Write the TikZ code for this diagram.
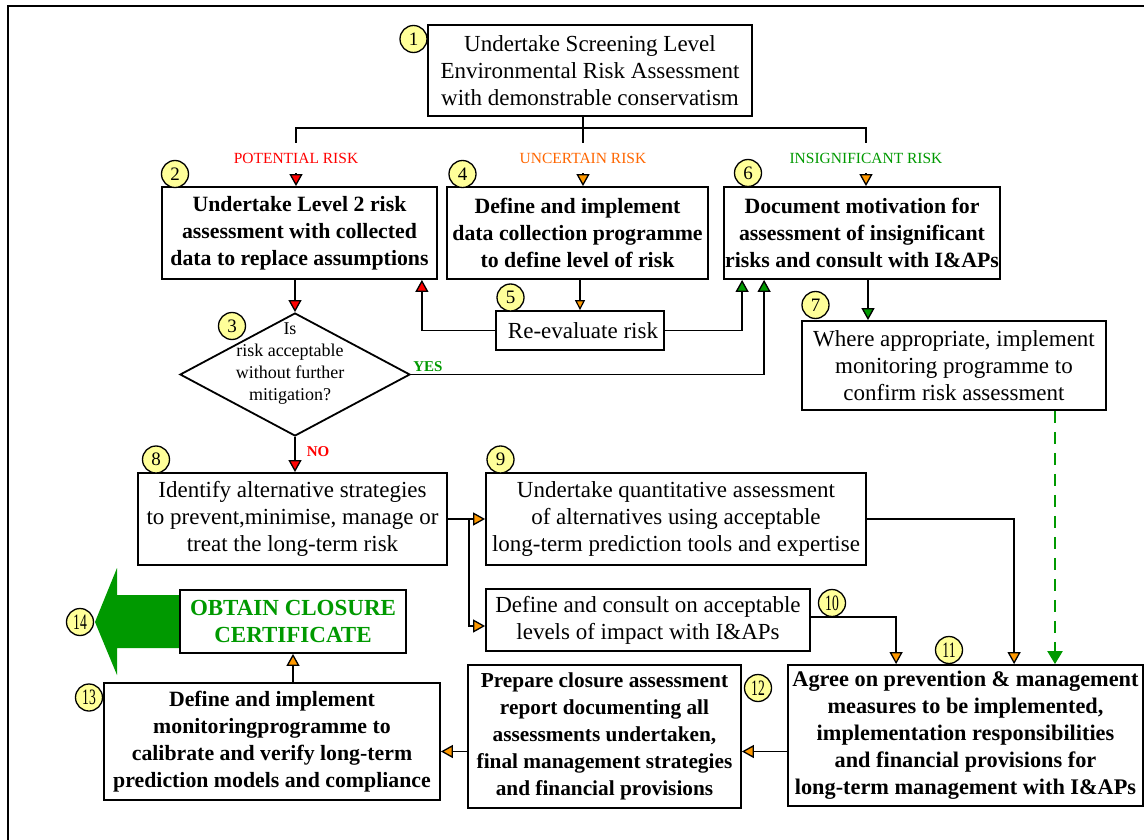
\documentclass[tikz,border=0pt]{standalone}
\usepackage{fontspec}
\usepackage{graphicx}
\setmainfont{Liberation Serif}
\usetikzlibrary{arrows.meta,shapes.geometric,calc}

\definecolor{riskred}{RGB}{255,0,0}
\definecolor{labelorange}{RGB}{255,102,0}
\definecolor{tiporange}{RGB}{255,153,0}
\definecolor{riskgreen}{RGB}{0,153,0}
\definecolor{numyellow}{RGB}{255,255,153}

\newcommand{\twodigit}[1]{\scalebox{0.62}[1]{\fontsize{22}{22}\selectfont #1}}

\tikzset{
  box/.style={draw, line width=1.8pt, align=center, inner sep=0pt,
    font=\fontsize{23}{27}\selectfont},
  bbox/.style={box, font=\bfseries\fontsize{21.8}{27}\selectfont},
  num/.style={circle, draw, fill=numyellow, line width=1.3pt, minimum size=27pt,
    inner sep=0pt, font=\fontsize{19}{19}\selectfont},
  risklabel/.style={inner sep=0pt, minimum height=30pt, font=\fontsize{15.5}{15.5}\selectfont},
  yesno/.style={inner sep=0pt, font=\bfseries\fontsize{15}{15}\selectfont},
  conn/.style={line width=1.8pt},
  tipR/.style={conn, -{Triangle[length=12pt,width=13pt,fill=riskred,line width=1.3pt]}},
  tipO/.style={conn, -{Triangle[length=12pt,width=13pt,fill=tiporange,line width=1.3pt]}},
  tipOs/.style={conn, -{Triangle[length=10pt,width=10pt,fill=tiporange,line width=1.2pt]}},
  tipG/.style={conn, -{Triangle[length=12pt,width=13pt,fill=riskgreen,line width=1.3pt]}},
  dashG/.style={line width=2.2pt, draw=riskgreen, dash pattern=on 12pt off 9pt,
    -{Triangle[length=13pt,width=15pt,fill=riskgreen]}},
}

\begin{document}
\begin{tikzpicture}[x=1pt,y=-1pt]
\useasboundingbox (0,0) rectangle (1144,840);

% outer frame (left and top edges)
\draw[line width=2.2pt] (8,840) -- (8,6) -- (1144,6);

% process boxes
\node[box, minimum width=324pt, minimum height=91pt] (b1) at (590,70.5)
  {Undertake Screening Level\\Environmental Risk Assessment\\with demonstrable conservatism};
\node[bbox, minimum width=275pt, minimum height=92pt] (b2) at (299.5,233)
  {Undertake Level 2 risk\\assessment with collected\\data to replace assumptions};
\node[bbox, minimum width=261pt, minimum height=92pt] (b4) at (577.5,233)
  {Define and implement\\data collection programme\\to define level of risk};
\node[bbox, minimum width=276pt, minimum height=92pt] (b6) at (862,233)
  {Document motivation for\\assessment of insignificant\\risks and consult with I\&APs};
\node[box, minimum width=168pt, minimum height=39pt] (b5) at (580,330.5)
  {\hspace*{6pt}Re-evaluate risk};
\node[box, minimum width=304pt, minimum height=89pt] (b7) at (954,365.5)
  {Where appropriate, implement\\monitoring programme to\\confirm risk assessment};
\node[box, minimum width=309pt, minimum height=92pt] (b8) at (292.5,519)
  {Identify alternative strategies\\to prevent,minimise, manage or\\treat the long-term risk};
\node[box, minimum width=380pt, minimum height=92pt] (b9) at (676,519)
  {Undertake quantitative assessment\\of alternatives using acceptable\\long-term prediction tools and expertise};
\node[box, minimum width=324pt, minimum height=62pt] (b10) at (648,620)
  {Define and consult on acceptable\\levels of impact with I\&APs};
\node[bbox, font=\bfseries\fontsize{22.3}{27}\selectfont,
  minimum width=355pt, minimum height=141pt] (b11) at (965.5,735.5)
  {Agree on prevention \& management\\measures to be implemented,\\implementation responsibilities\\and financial provisions for\\long-term management with I\&APs};
\node[bbox, font=\bfseries\fontsize{21.3}{27}\selectfont,
  minimum width=273pt, minimum height=143pt] (b12) at (604.5,736.5)
  {Prepare closure assessment\\report documenting all\\assessments undertaken,\\final management strategies\\and financial provisions};
\node[bbox, minimum width=336pt, minimum height=117pt] (b13) at (272,741.5)
  {Define and implement\\monitoringprogramme to\\calibrate and verify long-term\\prediction models and compliance};

% closure certificate with its large arrow
\fill[riskgreen] (180,595) -- (117,595) -- (117,568) -- (95,622) -- (117,675)
  -- (117,648) -- (180,648) -- cycle;
\node[bbox, font=\bfseries\fontsize{23}{27}\selectfont, text=riskgreen,
  minimum width=226pt, minimum height=63pt] (b14) at (293,621.5)
  {OBTAIN CLOSURE\\CERTIFICATE};

% decision
\node[diamond, draw, line width=1.8pt, minimum width=230pt, minimum height=123pt,
  inner sep=0pt] (d3) at (295,374.5) {};
\node[align=center, inner sep=0pt, font=\fontsize{18}{22}\selectfont] (d3t) at (290,364)
  {Is\\risk acceptable\\without further\\mitigation?};

% risk category labels
\node[risklabel, text=riskred] (l2) at (296,158) {POTENTIAL RISK};
\node[risklabel, text=labelorange] (l4) at (583,158) {UNCERTAIN RISK};
\node[risklabel, text=riskgreen] (l6) at (866,158) {INSIGNIFICANT RISK};
\node[yesno, text=riskgreen] (yes) at (428,367) {YES};
\node[yesno, text=riskred] (no) at (318,452) {NO};

% branching from the screening assessment
\coordinate (bus) at (583,128);
\draw[conn] (b1.south -| bus) -- (bus);
\draw[conn] (l2.north) |- (bus) -| (l6.north);
\draw[conn] (bus) -- (l4.north);
\draw[tipR] (l2.south) -- (l2.south |- b2.north);
\draw[tipO] (l4.south) -- (l4.south |- b4.north);
\draw[tipO] (l6.south) -- (l6.south |- b6.north);

% re-evaluation loop
\draw[tipOs] (b5.north |- b4.south) -- (b5.north);
\draw[tipR] (b5.west) -| ($(b2.south east)+(-16,0)$);
\draw[tipG] (b5.east) -| ($(b6.south west)+(19,0)$);

% decision outcomes
\draw[tipR] (d3.north |- b2.south) -- (d3.north);
\draw[tipG] (d3.east) -| ($(b6.south west)+(41,0)$);
\draw[tipR] (d3.south) -- (d3.south |- b8.north);

% insignificant risk monitoring
\coordinate (p67) at ($(b6.south)+(6,0)$);
\draw[tipG] (p67) -- (p67 |- b7.north);
\coordinate (p711) at ($(b7.south)+(101,0)$);
\draw[dashG] (p711) -- (p711 |- b11.north);

% alternatives
\draw[tipO] (b8.east) -- (b8.east -| b9.west);
\coordinate (split) at ($(b8.east)+(21,0)$);
\coordinate (in10) at ($(b10.west)+(0,6)$);
\draw[tipO] (split) |- (in10);
\draw[tipO] ($(b10.east)+(0,-3)$) -| ($(b11.north west)+(109,0)$);
\draw[tipO] (b9.east) -| ($(b11.north west)+(227,0)$);

% closure sequence
\coordinate (p1112) at ($(b11.west)+(0,16)$);
\draw[tipO] (p1112) -- (p1112 -| b12.east);
\draw[tipO] (p1112 -| b12.west) -- (p1112 -| b13.east);
\draw[tipO] (b14.south |- b13.north) -- (b14.south);

% step numbers
\node[num] (n1) at (413.5,39) {1};
\node[num] (n2) at (175,174) {2};
\node[num] (n3) at (232,326) {3};
\node[num] (n4) at (462.5,174) {4};
\node[num] (n5) at (510.5,297.5) {5};
\node[num] (n6) at (748,173) {6};
\node[num] (n7) at (815.5,305) {7};
\node[num] (n8) at (156,459.5) {8};
\node[num] (n9) at (500.5,459.5) {9};
\node[num] (n10) at (832,603) {\twodigit{10}};
\node[num] (n11) at (949,650) {\twodigit{11}};
\node[num] (n12) at (758,688) {\twodigit{12}};
\node[num] (n13) at (89,697.5) {\twodigit{13}};
\node[num] (n14) at (80,622) {\twodigit{14}};
\end{tikzpicture}
\end{document}
